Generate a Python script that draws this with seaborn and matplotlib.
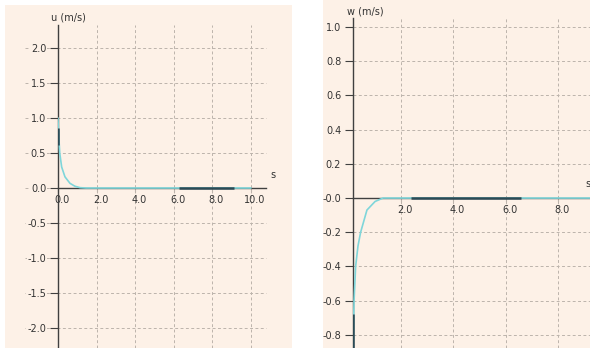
import matplotlib
matplotlib.use("Agg")
import matplotlib.pyplot as plt
import matplotlib.transforms as mtransforms
from matplotlib.patches import Rectangle
import seaborn as sns
import pandas as pd

# u(t) velocity, left panel
u_t = [0.0, 0.02, 0.09, 0.19, 0.36, 0.62, 0.88, 1.14, 1.45, 2.0, 4.0, 6.0, 8.0, 10.0]
u_v = [1.0, 0.83, 0.50, 0.30, 0.16, 0.067, 0.025, 0.005, 0.0, 0.0, 0.0, 0.0, 0.0, 0.0]
# w(t) velocity, right panel
w_t = [0.19, 0.20, 0.23, 0.29, 0.38, 0.48, 0.72, 1.03, 1.33, 2.0, 4.0, 6.0, 8.0, 9.3]
w_v = [-1.0, -0.85, -0.60, -0.40, -0.28, -0.20, -0.07, -0.02, 0.0, 0.0, 0.0, 0.0, 0.0, 0.0]

# dark overlapping segments
u_dark_h = ([6.27, 9.12], [0.0, 0.0])
u_dark_v = ([0.0, 0.0], [0.86, 0.62])
w_dark_h = ([2.39, 6.58], [0.0, 0.0])
w_dark_v = ([0.19, 0.19], [-0.68, -0.9])

u_xticks = [0.0, 2.0, 4.0, 6.0, 8.0, 10.0]
u_yticks = [2.0, 1.5, 1.0, 0.5, 0.0, -0.5, -1.0, -1.5, -2.0]
u_ylabels = ["2.0", "1.5", "1.0", "0.5", "0.0", "-0.5", "-1.0", "-1.5", "-2.0"]
w_xticks = [2.0, 4.0, 6.0, 8.0]
w_yticks = [1.0, 0.8, 0.6, 0.4, 0.2, 0.0, -0.2, -0.4, -0.6, -0.8]
w_ylabels = ["1.0", "0.8", "0.6", "0.4", "0.2", "-0.0", "-0.2", "-0.4", "-0.6", "-0.8"]

PEACH = "#fdf1e7"
CYAN = "#7fd6da"
DARK = "#2b4a55"
GRID = "#bdb4ac"
SPINE = "#404040"
TEXT = "#333333"

sns.set_theme(style="white")
plt.rcParams["font.family"] = ["DejaVu Sans"]
plt.rcParams["axes.unicode_minus"] = False

W, H = 590, 348
fig = plt.figure(figsize=(W / 100, H / 100), dpi=100)
fig.patch.set_facecolor("white")


def px_rect(x0, y0, x1, y1):
    return [x0 / W, 1 - y1 / H, (x1 - x0) / W, (y1 - y0) / H]


# panel backgrounds
for x0, y0, x1, y1 in [(5, 5, 292, 348), (323, 0, 590, 348)]:
    r = px_rect(x0, y0, x1, y1)
    fig.patches.append(Rectangle((r[0], r[1]), r[2], r[3], transform=fig.transFigure,
                                 facecolor=PEACH, edgecolor="none", zorder=-5))

ax1 = fig.add_axes(px_rect(58, 25, 266, 348))
ax2 = fig.add_axes(px_rect(353, 18, 590, 348))


def style_axis(ax, xlim, ylim, xticks, yticks, ylabels, extend_grid):
    ax.set_facecolor("none")
    ax.set_xlim(*xlim)
    ax.set_ylim(*ylim)
    for s in ["top", "right"]:
        ax.spines[s].set_visible(False)
    ax.spines["left"].set_color(SPINE)
    ax.spines["bottom"].set_color(SPINE)
    ax.spines["left"].set_linewidth(1.0)
    ax.spines["bottom"].set_linewidth(1.0)
    ax.spines["bottom"].set_position(("data", 0))
    ax.set_xticks(xticks, [f"{v:.1f}" for v in xticks])
    ax.set_yticks(yticks, ylabels)
    ax.tick_params(axis="y", length=5.5, width=0.8, color=SPINE, pad=3,
                   labelsize=7, labelcolor=TEXT, left=True)
    ax.tick_params(axis="x", length=3, width=0.8, color=GRID, pad=2,
                   labelsize=7, labelcolor=TEXT, bottom=True)
    # dashed grid
    for x in xticks:
        ax.axvline(x, color=GRID, lw=0.7, ls=(0, (3, 2.5)), zorder=0.5)
    start = -0.16 if extend_grid else 0.0
    trans = mtransforms.blended_transform_factory(ax.transAxes, ax.transData)
    for y in yticks:
        if abs(y) < 1e-9:
            continue
        ax.plot([start, 1.0], [y, y], transform=trans, color=GRID, lw=0.7,
                ls=(0, (3, 2.5)), clip_on=False, zorder=0.5)
    shift = mtransforms.ScaledTranslation(4 / 100, 0, fig.dpi_scale_trans)
    for lab in ax.get_xticklabels():
        lab.set_transform(lab.get_transform() + shift)
    if extend_grid:
        for lab in ax.get_yticklabels():
            lab.set_bbox(dict(facecolor=PEACH, edgecolor="none", pad=0.6))


style_axis(ax1, (0, 10.78), (-2.286, 2.329), u_xticks, u_yticks, u_ylabels, True)
style_axis(ax2, (0.19, 9.2), (-0.877, 1.053), w_xticks, w_yticks, w_ylabels, False)

# leading dash of the zero grid line on the left panel
trans1 = mtransforms.blended_transform_factory(ax1.transAxes, ax1.transData)
ax1.plot([-0.16, 0.0], [0, 0], transform=trans1, color=GRID, lw=0.7,
         ls=(0, (3, 2.5)), clip_on=False, zorder=0.5)

df_u = pd.DataFrame({"t": u_t, "u": u_v})
df_w = pd.DataFrame({"t": w_t, "w": w_v})
sns.lineplot(data=df_u, x="t", y="u", ax=ax1, color=CYAN, lw=1.2, zorder=3)
sns.lineplot(data=df_w, x="t", y="w", ax=ax2, color=CYAN, lw=1.2, zorder=3)

ax1.plot(*u_dark_h, color=DARK, lw=1.8, zorder=4, solid_capstyle="butt")
ax1.plot(*u_dark_v, color=DARK, lw=1.8, zorder=4, solid_capstyle="butt")
ax2.plot(*w_dark_h, color=DARK, lw=1.8, zorder=4, solid_capstyle="butt")
ax2.plot(*w_dark_v, color=DARK, lw=1.8, zorder=4, solid_capstyle="butt")

for ax in (ax1, ax2):
    ax.set_xlabel("")
    ax.set_ylabel("")

fig.text(68 / W, 1 - 17 / H, "u (m/s)", ha="center", va="center", fontsize=7, color=TEXT)
fig.text(365 / W, 1 - 12 / H, "w (m/s)", ha="center", va="center", fontsize=7, color=TEXT)
fig.text(273 / W, 1 - 175 / H, "s", ha="center", va="center", fontsize=7, color=TEXT)
fig.text(588 / W, 1 - 184 / H, "s", ha="center", va="center", fontsize=7, color=TEXT)

fig.savefig("out.png", dpi=100, facecolor="white")
